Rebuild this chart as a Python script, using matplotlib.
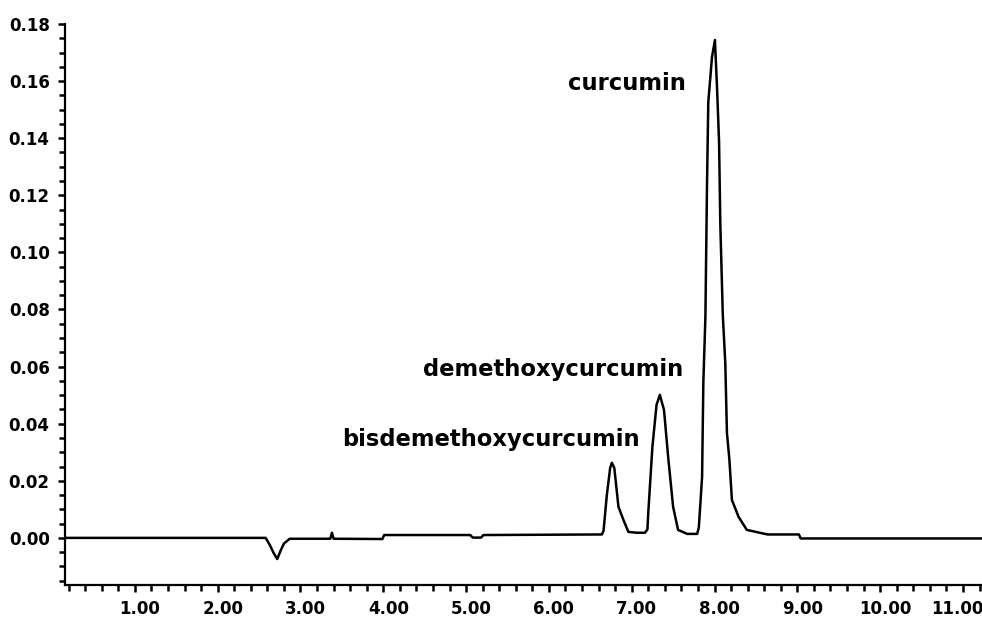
import matplotlib
matplotlib.use('Agg')
import matplotlib.pyplot as plt
import matplotlib.transforms as mtransforms
from matplotlib.ticker import MultipleLocator, FormatStrFormatter

# retention time (min) and absorbance (AU) of the chromatogram trace
time_min = [0.16, 2.58, 2.63, 2.68, 2.72, 2.76, 2.80, 2.87, 3.36, 3.38, 3.40,
            3.99, 4.01, 5.05, 5.08, 5.18, 5.21, 6.64, 6.66, 6.70, 6.74, 6.76,
            6.79, 6.84, 6.90, 6.96, 7.06, 7.16, 7.19, 7.20, 7.25, 7.30, 7.34,
            7.39, 7.44, 7.50, 7.56, 7.67, 7.79, 7.81, 7.83, 7.85, 7.865, 7.89,
            7.91, 7.925, 7.97, 8.005, 8.03, 8.055, 8.07, 8.10, 8.13, 8.15, 8.18,
            8.21, 8.29, 8.39, 8.64, 9.02, 9.04, 11.23]
absorbance = [0.0, 0.0, -0.0025, -0.0055, -0.0074, -0.0045, -0.0020, -0.0003,
              -0.0003, 0.0018, -0.0003, -0.0004, 0.0010, 0.0010, 0.0001, 0.0001,
              0.0010, 0.0012, 0.0025, 0.0151, 0.0245, 0.0263, 0.0245, 0.0109,
              0.0063, 0.0021, 0.0018, 0.0018, 0.0030, 0.0088, 0.0319, 0.0466,
              0.0501, 0.0448, 0.0284, 0.0109, 0.0028, 0.0014, 0.0014, 0.0035,
              0.0123, 0.0214, 0.0543, 0.0774, 0.1250, 0.1527, 0.1685, 0.1744,
              0.1580, 0.1387, 0.1100, 0.0781, 0.0613, 0.0368, 0.0273, 0.0133,
              0.0074, 0.0028, 0.0012, 0.0012, -0.0002, -0.0002]

# peak names and where their labels sit (right edge of text)
peak_names = ['curcumin', 'demethoxycurcumin', 'bisdemethoxycurcumin']
label_x = [7.66, 7.62, 7.10]
label_y = [0.159, 0.0589, 0.0343]

fig = plt.figure(figsize=(9.82, 6.27), dpi=100)
ax = fig.add_axes([0.0662, 0.067, 0.9338, 0.8947])

ax.plot(time_min, absorbance, color='black', linewidth=1.8)

for name, x, y in zip(peak_names, label_x, label_y):
    ax.text(x, y, name, ha='right', va='center', fontsize=16.3,
            fontweight='bold', family='DejaVu Sans')

ax.set_xlim(0.157, 11.23)
ax.set_ylim(-0.0165, 0.18)

ax.xaxis.set_major_locator(MultipleLocator(1.0))
ax.xaxis.set_minor_locator(MultipleLocator(0.2))
ax.yaxis.set_major_locator(MultipleLocator(0.02))
ax.yaxis.set_minor_locator(MultipleLocator(0.005))
ax.xaxis.set_major_formatter(FormatStrFormatter('%.2f'))
ax.yaxis.set_major_formatter(FormatStrFormatter('%.2f'))

for side in ['top', 'right']:
    ax.spines[side].set_visible(False)
for side in ['left', 'bottom']:
    ax.spines[side].set_linewidth(1.6)

ax.tick_params(which='major', direction='out', length=5, width=1.8, pad=6)
ax.tick_params(which='minor', direction='out', length=4, width=1.8)
for lab in ax.get_xticklabels() + ax.get_yticklabels():
    lab.set_fontweight('bold')
    lab.set_family('DejaVu Sans')
    lab.set_fontsize(12)

# nudge x labels a bit right of their ticks; the last one left so it fits
xlabels = ax.get_xticklabels()
for i, lab in enumerate(xlabels):
    dx = 5 if lab.get_text() != '11.00' else -6
    offset = mtransforms.ScaledTranslation(dx / 100, 0, fig.dpi_scale_trans)
    lab.set_transform(lab.get_transform() + offset)

fig.savefig('out.png', dpi=100)
